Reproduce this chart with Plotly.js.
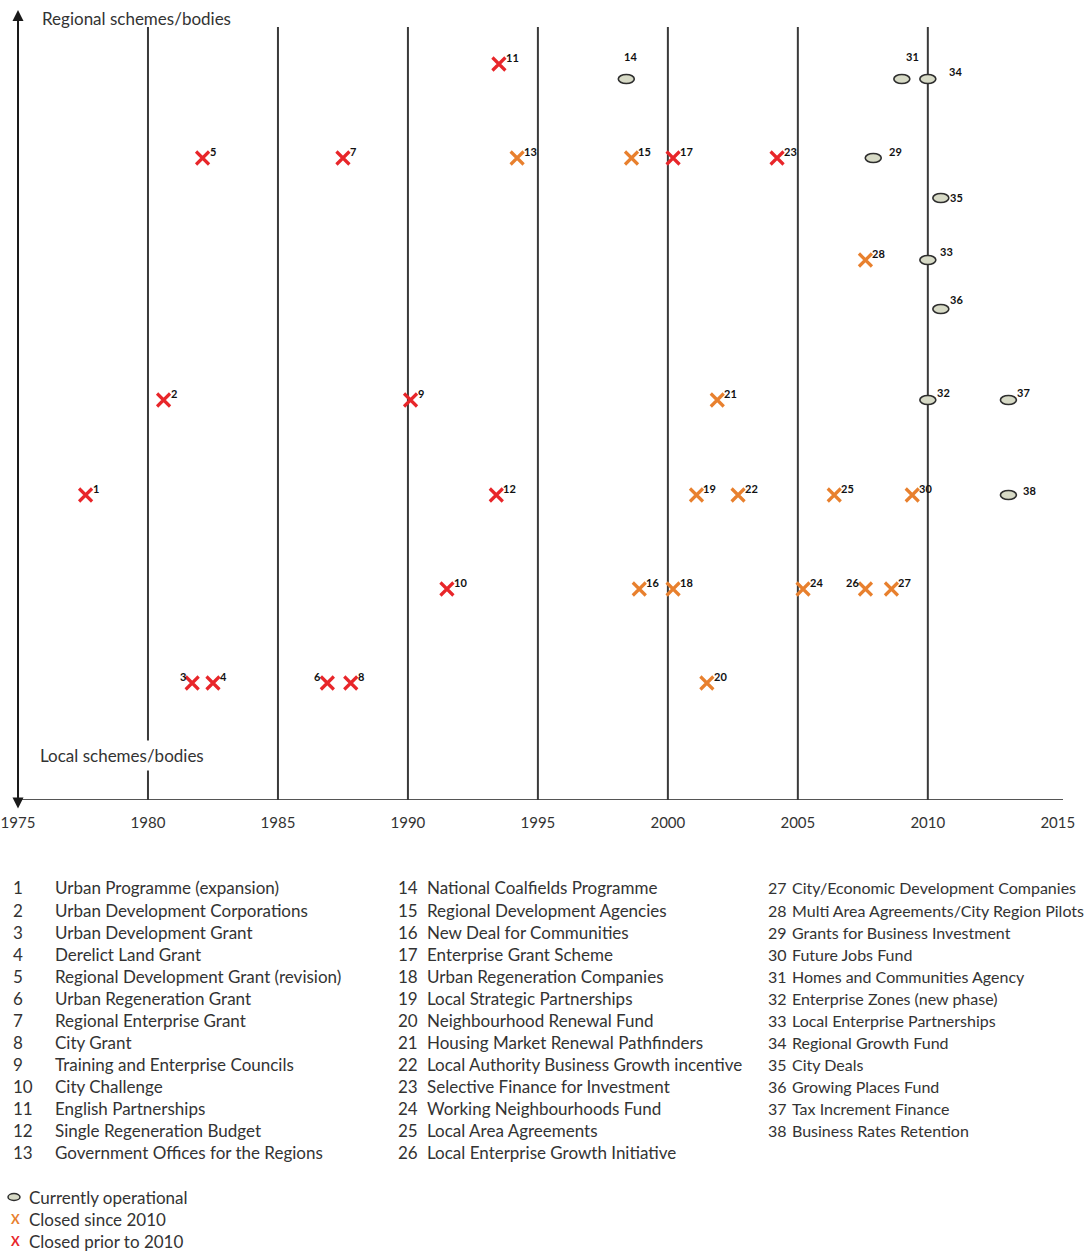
<!DOCTYPE html>
<html>
<head>
<meta charset="utf-8">
<script src="https://cdn.plot.ly/plotly-3.0.1.min.js"></script>
<style>html,body{margin:0;padding:0;background:#fff;}#chart{width:1089px;height:1253px;}</style>
</head>
<body>
<div id="chart"></div>
<script>
// ---------------- DATA ----------------
const schemeIds = [1,2,3,4,5,6,7,8,9,10,11,12,13,14,15,16,17,18,19,20,21,22,23,24,25,26,27,28,29,30,31,32,33,34,35,36,37,38];
const schemeNames = [
  "Urban Programme (expansion)","Urban Development Corporations","Urban Development Grant","Derelict Land Grant",
  "Regional Development Grant (revision)","Urban Regeneration Grant","Regional Enterprise Grant","City Grant",
  "Training and Enterprise Councils","City Challenge","English Partnerships","Single Regeneration Budget",
  "Government Offices for the Regions","National Coalfields Programme","Regional Development Agencies",
  "New Deal for Communities","Enterprise Grant Scheme","Urban Regeneration Companies","Local Strategic Partnerships",
  "Neighbourhood Renewal Fund","Housing Market Renewal Pathfinders","Local Authority Business Growth incentive",
  "Selective Finance for Investment","Working Neighbourhoods Fund","Local Area Agreements","Local Enterprise Growth Initiative",
  "City/Economic Development Companies","Multi Area Agreements/City Region Pilots","Grants for Business Investment",
  "Future Jobs Fund","Homes and Communities Agency","Enterprise Zones (new phase)","Local Enterprise Partnerships",
  "Regional Growth Fund","City Deals","Growing Places Fund","Tax Increment Finance","Business Rates Retention"
];
// year each scheme appears on the timeline
const schemeYears = [1977.6,1980.6,1981.7,1982.5,1982.1,1986.9,1987.5,1987.8,1990.1,1991.5,1993.5,1993.4,1994.2,
  1998.4,1998.6,1998.9,2000.2,2000.2,2001.1,2001.5,2001.9,2002.7,2004.2,2005.2,2006.4,2007.6,2008.6,2007.6,2007.9,
  2009.4,2009.0,2010.0,2010.0,2010.0,2010.5,2010.5,2013.1,2013.1];
// position on the local (0) to regional (top) scale
const schemeLevels = [30.5,40.0,11.7,11.7,64.2,11.7,64.2,11.7,40.0,21.1,73.6,30.5,64.2,
  72.1,64.2,21.1,64.2,21.1,30.5,11.7,40.0,30.5,64.2,21.1,30.5,21.1,21.1,54.0,64.2,
  30.5,72.1,40.0,54.0,72.1,60.2,49.1,40.0,30.5];
// O = currently operational, S = closed since 2010, P = closed prior to 2010
const schemeStatus = ["P","P","P","P","P","P","P","P","P","P","P","P","S",
  "O","S","S","P","S","S","S","S","S","P","S","S","S","S","S","O",
  "S","O","O","O","O","O","O","O","O"];
const gridYears = [1980,1985,1990,1995,2000,2005,2010];
const tickYears = [1975,1980,1985,1990,1995,2000,2005,2010,2015];
const statusLabels = {O:"Currently operational", S:"Closed since 2010", P:"Closed prior to 2010"};

// ---------------- STYLE ----------------
const L = 8, R = 26, T = 10, B = 453, W = 1089, H = 1253;
const X_RANGE = [1974.615, 2015.2];
const plotW = W - L - R, plotH = H - T - B;
const px = x => (x - L) / plotW;
const py = y => (H - B - y) / plotH;
const FONT = "Lato, 'Open Sans', sans-serif";
const RED = "#e8262a", ORANGE = "#e8802e", ELL_FILL = "#d7dac6", ELL_LINE = "#2e2e2e";
const GRID_TOP = 77.3;
// label offsets (pixels) by scheme id: [xanchor, xshift, yshift]
const labelStyle = {
  3:["right",-4,7], 6:["right",-4,7], 26:["right",-4,7],
  14:["center",4,23], 31:["center",11,23], 34:["left",19,8], 29:["left",14,7],
  35:["left",7,1], 33:["left",10,9], 36:["left",7,10], 32:["left",7,8], 37:["left",7,8], 38:["left",13,5]
};

// ---------------- TRACES ----------------
function pick(status) {
  const xs=[], ys=[], t=[];
  schemeIds.forEach((id,i)=>{ if (schemeStatus[i]===status){ xs.push(schemeYears[i]); ys.push(schemeLevels[i]); t.push(id+". "+schemeNames[i]); } });
  return {xs, ys, t};
}
const pO = pick("O"), pS = pick("S"), pP = pick("P");
const traces = [
  {type:"scatter", mode:"markers", name:statusLabels.O, x:pO.xs, y:pO.ys, text:pO.t, hoverinfo:"text",
   marker:{symbol:"circle", size:8, color:ELL_FILL, line:{color:ELL_LINE, width:1.5}}},
  {type:"scatter", mode:"markers", name:statusLabels.S, x:pS.xs, y:pS.ys, text:pS.t, hoverinfo:"text",
   marker:{symbol:"x-thin-open", size:13, color:ORANGE, line:{color:ORANGE, width:3.2}}},
  {type:"scatter", mode:"markers", name:statusLabels.P, x:pP.xs, y:pP.ys, text:pP.t, hoverinfo:"text",
   marker:{symbol:"x-thin-open", size:13, color:RED, line:{color:RED, width:3.2}}}
];

// ---------------- SHAPES ----------------
const shapes = [];
shapes.push({type:"line", xref:"x", yref:"y", x0:tickYears[0], x1:X_RANGE[1], y0:0, y1:0,
  line:{color:"#555", width:2}, layer:"below"});
gridYears.forEach(yr => shapes.push({type:"line", xref:"x", yref:"y", x0:yr, x1:yr, y0:0, y1:GRID_TOP,
  line:{color:"#3a3a3a", width:2}, layer:"below"}));
schemeIds.forEach((id,i)=>{
  if (schemeStatus[i]==="O") shapes.push({type:"circle", xref:"x", yref:"y", xsizemode:"pixel", ysizemode:"pixel",
    xanchor:schemeYears[i], yanchor:schemeLevels[i], x0:-8, x1:8, y0:-4.5, y1:4.5,
    fillcolor:ELL_FILL, line:{color:ELL_LINE, width:1.6}, layer:"above"});
});
shapes.push({type:"circle", xref:"paper", yref:"paper", x0:px(8), x1:px(20), y0:py(1200.5), y1:py(1193.5),
  fillcolor:ELL_FILL, line:{color:ELL_LINE, width:1.5}});

// ---------------- ANNOTATIONS ----------------
const ann = [];
schemeIds.forEach((id,i)=>{
  const st = labelStyle[id] || ["left",5,7];
  ann.push({x:schemeYears[i], y:schemeLevels[i], xref:"x", yref:"y", text:String(id), showarrow:false,
    xanchor:st[0], yanchor:"middle", xshift:st[1], yshift:st[2],
    font:{family:FONT, size:11, color:"#111", weight:"bold"}});
});
ann.push({x:tickYears[0], y:79, xref:"x", yref:"y", ax:tickYears[0], ay:-1.0, axref:"x", ayref:"y",
  text:"", showarrow:true, arrowhead:2, startarrowhead:2, arrowside:"end+start", arrowsize:1.1, arrowwidth:2,
  arrowcolor:"#1a1a1a", standoff:0, startstandoff:0});
ann.push({x:px(40), y:py(18), xref:"paper", yref:"paper", text:"Regional schemes/bodies", showarrow:false,
  xanchor:"left", yanchor:"middle", font:{family:FONT, size:17, color:"#333"}});
ann.push({x:px(35), y:py(755), xref:"paper", yref:"paper", text:"Local schemes/bodies", showarrow:false,
  xanchor:"left", yanchor:"middle", bgcolor:"#ffffff", borderpad:4, font:{family:FONT, size:17, color:"#333"}});
const colNumX = [11, 396, 766], colNameX = [53, 425, 790], colFont = [17, 17, 16];
schemeIds.forEach((id,i)=>{
  const col = i < 13 ? 0 : (i < 26 ? 1 : 2);
  const row = i - col*13;
  const yy = 888 + row*22.08;
  ann.push({x:px(colNumX[col]), y:py(yy), xref:"paper", yref:"paper", text:String(id), showarrow:false,
    xanchor:"left", yanchor:"middle", font:{family:FONT, size:colFont[col], color:"#333"}});
  ann.push({x:px(colNameX[col]), y:py(yy), xref:"paper", yref:"paper", text:schemeNames[i], showarrow:false,
    xanchor:"left", yanchor:"middle", font:{family:FONT, size:colFont[col], color:"#333"}});
});
ann.push({x:px(27), y:py(1197), xref:"paper", yref:"paper", text:statusLabels.O, showarrow:false,
  xanchor:"left", yanchor:"middle", font:{family:FONT, size:17, color:"#333"}});
ann.push({x:px(9), y:py(1219), xref:"paper", yref:"paper", text:"X", showarrow:false,
  xanchor:"left", yanchor:"middle", font:{family:FONT, size:13, color:ORANGE, weight:"bold"}});
ann.push({x:px(27), y:py(1219), xref:"paper", yref:"paper", text:statusLabels.S, showarrow:false,
  xanchor:"left", yanchor:"middle", font:{family:FONT, size:17, color:"#333"}});
ann.push({x:px(9), y:py(1241), xref:"paper", yref:"paper", text:"X", showarrow:false,
  xanchor:"left", yanchor:"middle", font:{family:FONT, size:13, color:RED, weight:"bold"}});
ann.push({x:px(27), y:py(1241), xref:"paper", yref:"paper", text:statusLabels.P, showarrow:false,
  xanchor:"left", yanchor:"middle", font:{family:FONT, size:17, color:"#333"}});

// ---------------- LAYOUT ----------------
const layout = {
  width:W, height:H, margin:{l:L, r:R, t:T, b:B},
  paper_bgcolor:"#fff", plot_bgcolor:"#fff", showlegend:false,
  xaxis:{range:X_RANGE, tickvals:tickYears, ticktext:tickYears.map(String),
    showgrid:false, zeroline:false, showline:false, ticks:"", ticklabelstandoff:12,
    tickfont:{family:FONT, size:15, color:"#333"}, fixedrange:true},
  yaxis:{range:[0,79], visible:false, fixedrange:true},
  shapes:shapes, annotations:ann
};
Plotly.newPlot("chart", traces, layout, {displayModeBar:false, staticPlot:true});
</script>
</body>
</html>
